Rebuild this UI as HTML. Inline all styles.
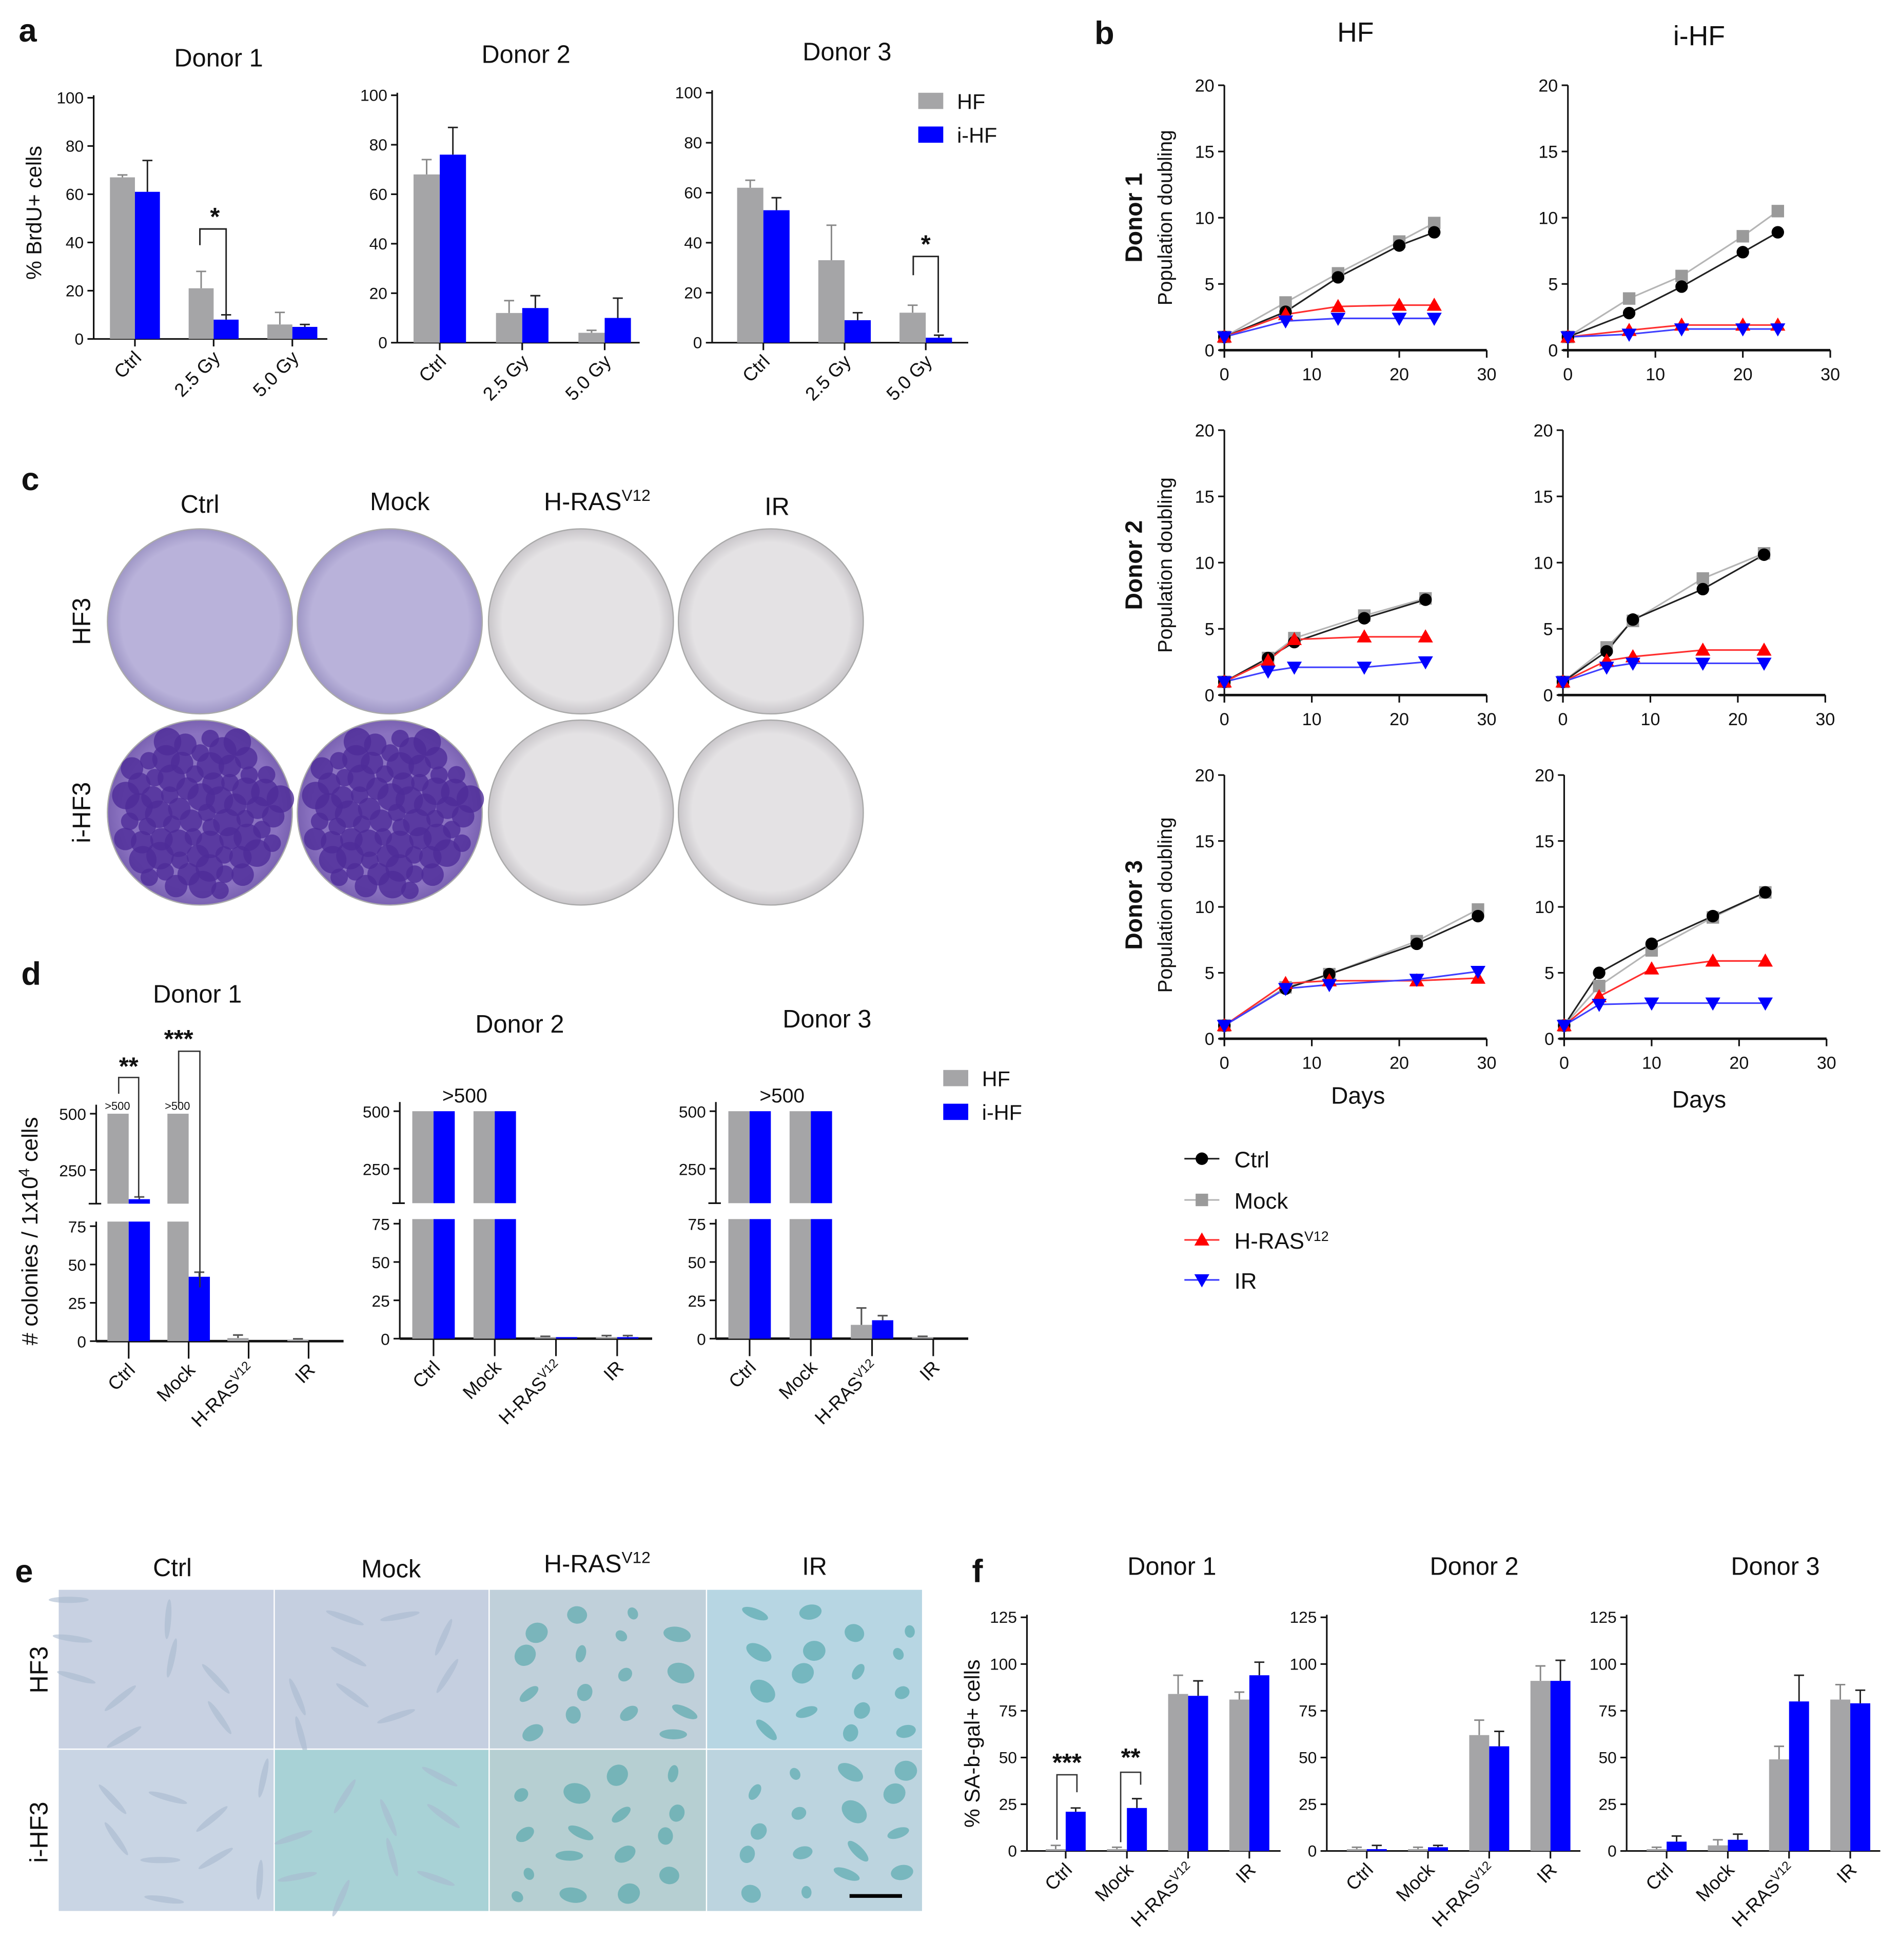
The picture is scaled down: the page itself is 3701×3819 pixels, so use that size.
<!DOCTYPE html>
<html><head><meta charset="utf-8"><style>
html,body{margin:0;padding:0;background:#fff}
svg{display:block}
text{font-family:"Liberation Sans",sans-serif;fill:#111}
</style></head><body>
<svg id="fig" width="3701" height="3819" viewBox="0 0 1520 1568" xmlns="http://www.w3.org/2000/svg">
<rect width="1520" height="1568" fill="#fff"/>
<g id="root"></g>
</svg>
<script>
// ---------- DATA ----------
const aCats = ['Ctrl','2.5 Gy','5.0 Gy'];
const aD1HF = [67,21,6], aD1HFe=[68,28,11], aD1iHF=[61,8,5], aD1iHFe=[74,10,6];
const aD2HF = [68,12,4], aD2HFe=[74,17,5], aD2iHF=[76,14,10], aD2iHFe=[87,19,18];
const aD3HF = [62,33,12], aD3HFe=[65,47,15], aD3iHF=[53,9,2], aD3iHFe=[58,12,3];
const aTicks = [0,20,40,60,80,100];

const bXTicks=[0,10,20,30], bYTicks=[0,5,10,15,20];
const b1Days=[0,7,13,20,24];
const b1HFCtrl=[1,2.9,5.5,7.9,8.9], b1HFMock=[1,3.6,5.8,8.2,9.6], b1HFRas=[1,2.7,3.3,3.4,3.4], b1HFIR=[1,2.2,2.4,2.4,2.4];
const b1iCtrl=[1,2.8,4.8,7.4,8.9], b1iMock=[1,3.9,5.6,8.6,10.5], b1iRas=[1,1.5,1.9,1.9,1.9], b1iIR=[1,1.2,1.6,1.6,1.6];
const b2Days=[0,5,8,16,23];
const b2HFCtrl=[1,2.8,4,5.8,7.2], b2HFMock=[1,2.8,4.3,6,7.3], b2HFRas=[1,2.6,4.2,4.4,4.4], b2HFIR=[1,1.8,2.1,2.1,2.5];
const b2iCtrl=[1,3.3,5.7,8,10.6], b2iMock=[1,3.6,5.6,8.8,10.7], b2iRas=[1,2.6,2.9,3.4,3.4], b2iIR=[1,2.1,2.4,2.4,2.4];
const b3HFDays=[0,7,12,22,29];
const b3HFCtrl=[1,3.8,4.9,7.2,9.3], b3HFMock=[1,3.9,4.9,7.4,9.8], b3HFRas=[1,4.2,4.4,4.4,4.6], b3HFIR=[1,3.8,4.1,4.5,5.1];
const b3iDays=[0,4,10,17,23];
const b3iCtrl=[1,5,7.2,9.3,11.1], b3iMock=[1,4,6.7,9.2,11.1], b3iRas=[1,3.2,5.3,5.9,5.9], b3iIR=[1,2.6,2.7,2.7,2.7];

const dCats=['Ctrl','Mock','H-RAS','IR'];
const dD1HF=[600,600,2,1], dD1HFe=[600,600,4,1.5], dD1iHF=[120,42,0,0], dD1iHFe=[130,45,0,0];
const dD2HF=[600,600,1,1], dD2HFe=[600,600,1.5,2], dD2iHF=[600,600,1,1], dD2iHFe=[600,600,1,2];
const dD3HF=[600,600,9,1], dD3HFe=[600,600,20,1.5], dD3iHF=[600,600,12,0], dD3iHFe=[600,600,15,0];
const dLowTicks=[0,25,50,75], dHighTicks=[250,500];

const fCats=['Ctrl','Mock','H-RAS','IR'];
const fD1HF=[1,1,84,81], fD1HFe=[3,2,94,85], fD1iHF=[21,23,83,94], fD1iHFe=[23,28,91,101];
const fD2HF=[1,1,62,91], fD2HFe=[2,2,70,99], fD2iHF=[1,2,56,91], fD2iHFe=[3,3,64,102];
const fD3HF=[1,3,49,81], fD3HFe=[2,6,56,89], fD3iHF=[5,6,80,79], fD3iHFe=[8,9,94,86];
const fTicks=[0,25,50,75,100,125];

// ---------- HELPERS ----------
const NS='http://www.w3.org/2000/svg';
const root=document.getElementById('root');
const GRAY='#a5a5a7', BLUE='#0000ff';
function mk(tag,attrs,name,parent,txt){
  const el=document.createElementNS(NS,tag);
  for(const k in attrs) el.setAttribute(k,attrs[k]);
  
  
  if(txt!==undefined) el.textContent=txt;
  (parent||root).appendChild(el);
  return el;
}
function line(x1,y1,x2,y2,name,p,c,w){return mk('line',{x1,y1,x2,y2,stroke:c||'#111','stroke-width':w||1.3},name,p);}
function txt(x,y,s,size,name,p,extra){return mk('text',Object.assign({x,y,'font-size':size,'text-anchor':'middle'},extra||{}),name,p,s);}
function catLabel(cx,y,s,p,sup){
  const t=mk('text',{x:cx+6,y:y,'font-size':15,'text-anchor':'end',transform:`rotate(-45 ${cx+6} ${y})`},'category-label',p);
  t.appendChild(document.createTextNode(s));
  if(sup){const ts=document.createElementNS(NS,'tspan');ts.setAttribute('baseline-shift','super');ts.setAttribute('font-size','10');ts.textContent=sup;t.appendChild(ts);}
  return t;
}

function barChart(o){
  const g=mk('g',{},o.name);
  const ys=v=>o.y0-(v/o.max)*(o.y0-o.yTop);
  line(o.x0,ys(o.max)-2,o.x0,o.y0,'y-axis',g);
  line(o.x0,o.y0,o.x1,o.y0,'x-axis',g);
  o.ticks.forEach(t=>{line(o.x0-5,ys(t),o.x0,ys(t),'y-tick',g);txt(o.x0-8,ys(t)+4.5,String(t),13,'y-tick-label',g,{'text-anchor':'end'});});
  o.cats.forEach((c,i)=>{
    const cx=o.c0+i*o.step;
    line(cx,o.y0,cx,o.y0+6,'x-tick',g);
    [[o.hf,o.hfe,GRAY,-1],[o.ihf,o.ihfe,BLUE,0]].forEach(([v,e,col,off])=>{
      const bx=cx+off*o.bw;
      line(bx+o.bw/2,ys(e[i]),bx+o.bw/2,ys(v[i]),'error-bar',g,col==BLUE?'#222':'#888',1.2);
      line(bx+o.bw/2-4,ys(e[i]),bx+o.bw/2+4,ys(e[i]),'error-cap',g,col==BLUE?'#222':'#888',1.2);
      mk('rect',{x:bx,y:ys(v[i]),width:o.bw,height:o.y0-ys(v[i]),fill:col},col==BLUE?'bar-i-hf':'bar-hf',g);
    });
    catLabel(cx,o.y0+16,c,g,o.sups?o.sups[i]:null);
  });
  if(o.title) txt(o.tx,o.ty,o.title,20,'chart-title',g);
  return g;
}

// ---------- PANEL LETTERS ----------
[['a',15,33],['b',876,35],['c',17,392],['d',17,788],['e',12,1266],['f',778,1266]].forEach(([l,x,y])=>{
  txt(x,y,l,26,'panel-letter-'+l,root,{'font-weight':'bold','text-anchor':'start'});
});

// ---------- PANEL A ----------
barChart({name:'panel-a-donor1',x0:75,x1:262,y0:271,yTop:78,max:100,ticks:aTicks,cats:aCats,hf:aD1HF,hfe:aD1HFe,ihf:aD1iHF,ihfe:aD1iHFe,c0:108,step:63,bw:20,title:'Donor 1',tx:175,ty:53});
barChart({name:'panel-a-donor2',x0:318,x1:512,y0:274,yTop:76,max:100,ticks:aTicks,cats:aCats,hf:aD2HF,hfe:aD2HFe,ihf:aD2iHF,ihfe:aD2iHFe,c0:352,step:66,bw:21,title:'Donor 2',tx:421,ty:50});
barChart({name:'panel-a-donor3',x0:570,x1:775,y0:274,yTop:74,max:100,ticks:aTicks,cats:aCats,hf:aD3HF,hfe:aD3HFe,ihf:aD3iHF,ihfe:aD3iHFe,c0:611,step:65,bw:21,title:'Donor 3',tx:678,ty:48});
txt(33,170,'% BrdU+ cells',17,'y-axis-title-brdu',root,{transform:'rotate(-90 33 170)'});
mk('path',{d:'M160 196 V183 H181 V252',fill:'none',stroke:'#222','stroke-width':1.2},'significance-bracket');
txt(172,180,'*',20,'significance-star',root,{'font-weight':'bold'});
mk('path',{d:'M731 220 V205 H751 V266',fill:'none',stroke:'#222','stroke-width':1.2},'significance-bracket');
txt(741,202,'*',20,'significance-star',root,{'font-weight':'bold'});
function legend(x,y,name){
  const g=mk('g',{},name);
  mk('rect',{x:x,y:y-8,width:20,height:13,fill:GRAY},'legend-swatch-hf',g);
  txt(x+31,y+5,'HF',17,'legend-label-hf',g,{'text-anchor':'start'});
  mk('rect',{x:x,y:y+19,width:20,height:13,fill:BLUE},'legend-swatch-ihf',g);
  txt(x+31,y+32,'i-HF',17,'legend-label-ihf',g,{'text-anchor':'start'});
}
legend(735,82,'legend-a');

// ---------- PANEL B ----------
function marker(type,x,y,g){
  if(type==='ctrl') return mk('circle',{cx:x,cy:y,r:5,fill:'#000'},'point-ctrl',g);
  if(type==='mock') return mk('rect',{x:x-5,y:y-5,width:10,height:10,fill:'#9a9a9a'},'point-mock',g);
  if(type==='ras') return mk('path',{d:`M${x} ${y-6} L${x+6} ${y+4.5} L${x-6} ${y+4.5}Z`,fill:'#ff0000'},'point-hras',g);
  return mk('path',{d:`M${x} ${y+6} L${x+6} ${y-4.5} L${x-6} ${y-4.5}Z`,fill:'#0000ff'},'point-ir',g);
}
function lineChart(o){
  const g=mk('g',{},o.name);
  const xs=v=>o.x0+v/30*(o.x1-o.x0), ys=v=>o.y0-v/20*(o.y0-o.yTop);
  line(o.x0,o.yTop,o.x0,o.y0+6,'y-axis',g);
  line(o.x0-4,o.y0,o.x1,o.y0,'x-axis',g,'#111',2);
  bYTicks.forEach(t=>{line(o.x0-5,ys(t),o.x0,ys(t),'y-tick',g);txt(o.x0-8,ys(t)+5,String(t),14,'y-tick-label',g,{'text-anchor':'end'});});
  bXTicks.forEach(t=>{line(xs(t),o.y0,xs(t),o.y0+6,'x-tick',g);txt(xs(t),o.y0+24,String(t),14,'x-tick-label',g);});
  const ser=[['mock',o.mock,'#b5b5b5',o.days],['ctrl',o.ctrl,'#222',o.days],['ras',o.ras,'#ff3030',o.days],['ir',o.ir,'#4040ff',o.irDays||o.days]];
  ser.forEach(([t,v,c,d])=>{
    mk('polyline',{points:v.map((y,i)=>xs(d[i])+','+ys(y)).join(' '),fill:'none',stroke:c,'stroke-width':1.3},'series-line-'+t,g);
  });
  ser.forEach(([t,v,c,d])=>v.forEach((y,i)=>marker(t,xs(d[i]),ys(y),g)));
  return g;
}
const HFx=[980,1190], IHx=[1253,1463];
lineChart({name:'panel-b-donor1-hf',x0:HFx[0],x1:HFx[1],y0:280,yTop:68,days:b1Days,ctrl:b1HFCtrl,mock:b1HFMock,ras:b1HFRas,ir:b1HFIR});
lineChart({name:'panel-b-donor1-ihf',x0:IHx[0]+2,x1:IHx[1]+2,y0:280,yTop:68,days:b1Days,ctrl:b1iCtrl,mock:b1iMock,ras:b1iRas,ir:b1iIR});
lineChart({name:'panel-b-donor2-hf',x0:HFx[0],x1:HFx[1],y0:556,yTop:344,days:b2Days,ctrl:b2HFCtrl,mock:b2HFMock,ras:b2HFRas,ir:b2HFIR});
lineChart({name:'panel-b-donor2-ihf',x0:IHx[0]-2,x1:IHx[1]-2,y0:556,yTop:344,days:b2Days,ctrl:b2iCtrl,mock:b2iMock,ras:b2iRas,ir:b2iIR});
lineChart({name:'panel-b-donor3-hf',x0:HFx[0],x1:HFx[1],y0:831,yTop:620,days:b3HFDays,ctrl:b3HFCtrl,mock:b3HFMock,ras:b3HFRas,ir:b3HFIR});
lineChart({name:'panel-b-donor3-ihf',x0:IHx[0]-1,x1:IHx[1]-1,y0:831,yTop:620,days:b3iDays,ctrl:b3iCtrl,mock:b3iMock,ras:b3iRas,ir:b3iIR});
txt(1085,33,'HF',22,'column-title-hf');
txt(1360,36,'i-HF',22,'column-title-ihf');
[['Donor 1',174],['Donor 2',452],['Donor 3',724]].forEach(([s,y])=>{
  txt(914,y,s,19,'row-title-donor',root,{'font-weight':'bold',transform:`rotate(-90 914 ${y})`});
  txt(938,y,'Population doubling',16,'y-axis-title-pd',root,{transform:`rotate(-90 938 ${y})`});
});
txt(1087,883,'Days',19,'x-axis-title-days');
txt(1360,886,'Days',19,'x-axis-title-days');
const lg=mk('g',{},'legend-b');
[['ctrl','#222','Ctrl',927],['mock','#b5b5b5','Mock',960],['ras','#ff3030','H-RAS',992],['ir','#4040ff','IR',1024]].forEach(([t,c,s,y])=>{
  line(948,y,976,y,'legend-line-'+t,lg,c,1.3);
  marker(t,962,y,lg);
  const tt=txt(988,y+7,s,18,'legend-label-'+t,lg,{'text-anchor':'start'});
  if(t==='ras'){const ts=document.createElementNS(NS,'tspan');ts.setAttribute('baseline-shift','super');ts.setAttribute('font-size','11');ts.textContent='V12';tt.appendChild(ts);}
});

// ---------- PANEL C ----------
const defs=mk('defs',{},'defs',document.getElementById('fig'));
defs.innerHTML='<radialGradient id="gl" cx="50%" cy="50%" r="50%"><stop offset="0.85" stop-color="#b9b2da"/><stop offset="1" stop-color="#9f97c6"/></radialGradient>'+
'<radialGradient id="gg" cx="50%" cy="50%" r="50%"><stop offset="0.85" stop-color="#e4e2e4"/><stop offset="1" stop-color="#c9c6ca"/></radialGradient>'+
'<radialGradient id="gd" cx="50%" cy="50%" r="50%"><stop offset="0.85" stop-color="#8a72c0"/><stop offset="1" stop-color="#7a62b2"/></radialGradient>';
const plateX=[160,312,465,617], plateY=[497,650];
const plateFill=[['url(#gl)','url(#gl)','url(#gg)','url(#gg)'],['url(#gd)','url(#gd)','url(#gg)','url(#gg)']];
plateY.forEach((py,r)=>plateX.forEach((px,c)=>{
  const g=mk('g',{},'culture-plate');
  mk('circle',{cx:px,cy:py,r:74,fill:plateFill[r][c],stroke:'#aaa','stroke-width':1},'plate-dish',g);
  if(r===1&&c<2){
    for(let i=0;i<70;i++){
      const a=i*2.39996, rr=66*Math.sqrt((i+0.5)/70);
      mk('circle',{cx:px+rr*Math.cos(a),cy:py+rr*Math.sin(a),r:7+(i%3)*2,fill:'#4d2c98',opacity:0.8},'colony',g);
    }
  }
}));
[['Ctrl',160,410],['Mock',320,408],['H-RAS',478,408],['IR',622,412]].forEach(([s,x,y])=>{
  const t=txt(x,y,s,20,'column-label-c');
  if(s==='H-RAS'){const ts=document.createElementNS(NS,'tspan');ts.setAttribute('baseline-shift','super');ts.setAttribute('font-size','13');ts.textContent='V12';t.appendChild(ts);}
});
txt(72,497,'HF3',20,'row-label-hf3',root,{transform:'rotate(-90 72 497)'});
txt(72,650,'i-HF3',20,'row-label-ihf3',root,{transform:'rotate(-90 72 650)'});

// ---------- PANEL D (broken axis) ----------
function brokenChart(o){
  const g=mk('g',{},o.name);
  const low=v=>o.y0-v*(o.y0-o.y75)/75;
  const high=v=>o.y500+(500-v)*(o.y250-o.y500)/250;
  const lowTop=low(78), highBot=high(100), highTop=high(540);
  line(o.x0,highTop,o.x0,highBot,'y-axis-upper',g);
  line(o.x0,lowTop,o.x0,o.y0,'y-axis-lower',g);
  line(o.x0-6,highBot,o.x0+4,highBot,'axis-break-mark',g);
  line(o.x0,o.y0,o.x1,o.y0,'x-axis',g,'#111',2);
  dLowTicks.forEach(t=>{line(o.x0-5,low(t),o.x0,low(t),'y-tick',g);txt(o.x0-8,low(t)+5,String(t),13,'y-tick-label',g,{'text-anchor':'end'});});
  dHighTicks.forEach(t=>{line(o.x0-5,high(t),o.x0,high(t),'y-tick',g);txt(o.x0-8,high(t)+5,String(t),13,'y-tick-label',g,{'text-anchor':'end'});});
  o.cats.forEach((c,i)=>{
    const cx=o.c0+i*o.step;
    line(cx,o.y0,cx,o.y0+14,'x-tick',g);
    [[o.hf,o.hfe,GRAY,-1],[o.ihf,o.ihfe,BLUE,0]].forEach(([v,e,col,off])=>{
      const bx=cx+off*o.bw, val=v[i];
      const nm=col==BLUE?'bar-i-hf':'bar-hf';
      if(val<=80){
        if(e[i]>val){line(bx+o.bw/2,low(e[i]),bx+o.bw/2,low(val),'error-bar',g,'#555');line(bx+o.bw/2-4,low(e[i]),bx+o.bw/2+4,low(e[i]),'error-cap',g,'#555');}
        if(val>0) mk('rect',{x:bx,y:low(val),width:o.bw,height:o.y0-low(val),fill:col},nm,g);
      } else {
        mk('rect',{x:bx,y:lowTop,width:o.bw,height:o.y0-lowTop,fill:col},nm,g);
        const tv=Math.min(val,500);
        if(e[i]>val&&val<500){line(bx+o.bw/2,high(e[i]),bx+o.bw/2,high(val),'error-bar',g,'#555');line(bx+o.bw/2-4,high(e[i]),bx+o.bw/2+4,high(e[i]),'error-cap',g,'#555');}
        mk('rect',{x:bx,y:high(tv),width:o.bw,height:highBot-high(tv),fill:col},nm,g);
      }
    });
    catLabel(cx,o.y0+24,c==='H-RAS'?'H-RAS':c,g,c==='H-RAS'?'V12':null);
  });
  txt(o.tx,o.ty,o.title,20,'chart-title',g);
  return g;
}
brokenChart({name:'panel-d-donor1',x0:77,x1:275,y0:1073,y75:981,y500:891,y250:936,cats:dCats,hf:dD1HF,hfe:dD1HFe,ihf:dD1iHF,ihfe:dD1iHFe,c0:103,step:48,bw:17,title:'Donor 1',tx:158,ty:802});
brokenChart({name:'panel-d-donor2',x0:320,x1:522,y0:1071,y75:979,y500:889,y250:935,cats:dCats,hf:dD2HF,hfe:dD2HFe,ihf:dD2iHF,ihfe:dD2iHFe,c0:347,step:49,bw:17,title:'Donor 2',tx:416,ty:826});
brokenChart({name:'panel-d-donor3',x0:573,x1:775,y0:1071,y75:979,y500:889,y250:935,cats:dCats,hf:dD3HF,hfe:dD3HFe,ihf:dD3iHF,ihfe:dD3iHFe,c0:600,step:49,bw:17,title:'Donor 3',tx:662,ty:822});
txt(94,888,'>500',9,'annotation-over-500');
txt(142,888,'>500',9,'annotation-over-500');
txt(372,882,'>500',16,'annotation-over-500');
txt(626,882,'>500',16,'annotation-over-500');
mk('path',{d:'M95 875 V862 H111 V958',fill:'none',stroke:'#333','stroke-width':1.1},'significance-bracket');
txt(103,860,'**',20,'significance-star',root,{'font-weight':'bold'});
mk('path',{d:'M143 885 V841 H160 V1030',fill:'none',stroke:'#333','stroke-width':1.1},'significance-bracket');
txt(143,838,'***',20,'significance-star',root,{'font-weight':'bold'});
legend(755,864,'legend-d');
const yl=txt(30,985,'# colonies / 1x10',18,'y-axis-title-colonies',root,{transform:'rotate(-90 30 985)'});
{const ts=document.createElementNS(NS,'tspan');ts.setAttribute('baseline-shift','super');ts.setAttribute('font-size','12');ts.textContent='4';yl.appendChild(ts);yl.appendChild(document.createTextNode(' cells'));}

// ---------- PANEL E ----------
const eX=[47,220,392,566,739], eY=[1272,1400,1530];
const eCol=[['#c8d1e2','#c5cfe0','#c0d0da','#b7d6e3'],['#c9d5e4','#a8d2d6','#b6cfd2','#bcd4df']];
const fr=v=>v-Math.floor(v);
eY.slice(0,2).forEach((y,r)=>eX.slice(0,4).forEach((x,c)=>{
  const g=mk('g',{},'micrograph');
  const w=eX[c+1]-x-1, h=eY[r+1]-y-1;
  mk('rect',{x:x,y:y,width:w,height:h,fill:eCol[r][c]},'micrograph-image',g);
  const n=c>=2?16:9;
  for(let i=0;i<n;i++){
    const px=x+8+fr(i*0.7548777+c*0.31+r*0.47)*(w-16), py=y+8+fr(i*0.5698403+c*0.13+r*0.71)*(h-16);
    mk('ellipse',{cx:px,cy:py,rx:c>=2?(5+(i%4)*2):16,ry:c>=2?(4+(i%3)*2):2.5,fill:c>=2?'#3f9ea3':'#a9b9cf',opacity:c>=2?0.55:0.6,transform:`rotate(${(i*47+c*20)%180} ${px} ${py})`},'cell',g);
  }
}));
line(680,1517,722,1517,'scale-bar',root,'#000',3);
[['Ctrl',138,1261],['Mock',313,1262],['H-RAS',478,1258],['IR',652,1260]].forEach(([s,x,y])=>{
  const t=txt(x,y,s,20,'column-label-e');
  if(s==='H-RAS'){const ts=document.createElementNS(NS,'tspan');ts.setAttribute('baseline-shift','super');ts.setAttribute('font-size','13');ts.textContent='V12';t.appendChild(ts);}
});
txt(38,1336,'HF3',20,'row-label-hf3',root,{transform:'rotate(-90 38 1336)'});
txt(38,1466,'i-HF3',20,'row-label-ihf3',root,{transform:'rotate(-90 38 1466)'});

// ---------- PANEL F ----------
const fSup=[null,null,'V12',null], fC=['Ctrl','Mock','H-RAS','IR'];
barChart({name:'panel-f-donor1',x0:822,x1:1025,y0:1481,yTop:1294,max:125,ticks:fTicks,cats:fC,sups:fSup,hf:fD1HF,hfe:fD1HFe,ihf:fD1iHF,ihfe:fD1iHFe,c0:853,step:49,bw:16,title:'Donor 1',tx:938,ty:1260});
barChart({name:'panel-f-donor2',x0:1062,x1:1265,y0:1481,yTop:1294,max:125,ticks:fTicks,cats:fC,sups:fSup,hf:fD2HF,hfe:fD2HFe,ihf:fD2iHF,ihfe:fD2iHFe,c0:1094,step:49,bw:16,title:'Donor 2',tx:1180,ty:1260});
barChart({name:'panel-f-donor3',x0:1302,x1:1505,y0:1481,yTop:1294,max:125,ticks:fTicks,cats:fC,sups:fSup,hf:fD3HF,hfe:fD3HFe,ihf:fD3iHF,ihfe:fD3iHFe,c0:1334,step:49,bw:16,title:'Donor 3',tx:1421,ty:1260});
txt(784,1395,'% SA-b-gal+ cells',17,'y-axis-title-sabgal',root,{transform:'rotate(-90 784 1395)'});
mk('path',{d:'M846 1472 V1420 H862 V1434',fill:'none',stroke:'#333','stroke-width':1.1},'significance-bracket');
txt(854,1417,'***',20,'significance-star',root,{'font-weight':'bold'});
mk('path',{d:'M897 1474 V1418 H913 V1428',fill:'none',stroke:'#333','stroke-width':1.1},'significance-bracket');
txt(905,1413,'**',20,'significance-star',root,{'font-weight':'bold'});
</script>
</body></html>
